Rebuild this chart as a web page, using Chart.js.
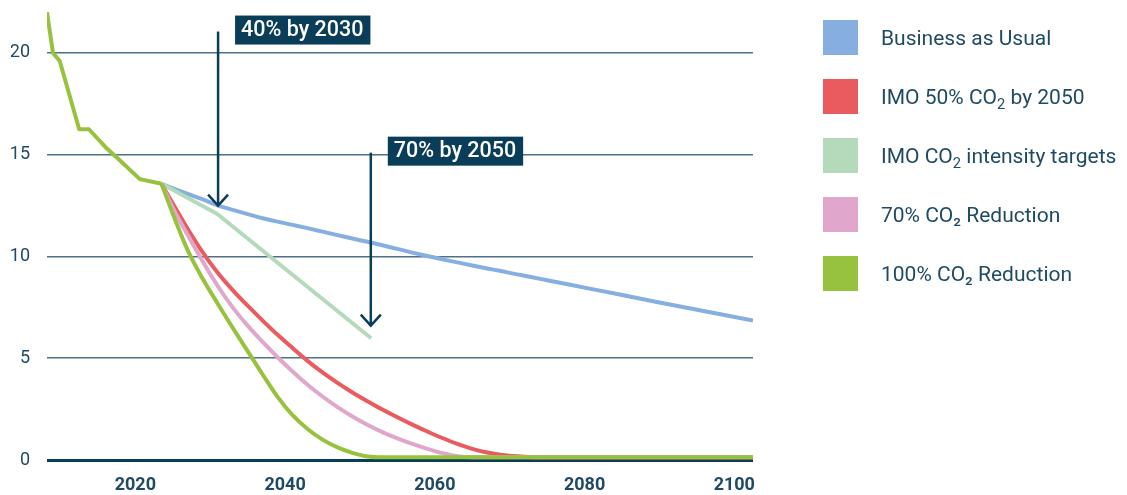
<!DOCTYPE html>
<html lang="en">
<head>
<meta charset="UTF-8">
<title>Shipping CO2 emission scenarios</title>
<script src="https://cdn.jsdelivr.net/npm/chart.js"></script>
<style>
  body { margin: 0; background: #fff; font-family: Roboto, sans-serif; }
  .wrap { position: relative; width: 1127px; height: 495px; }
  .legend { position: absolute; left: 823px; top: 20px; list-style: none; margin: 0; padding: 0; }
  .legend li { display: flex; align-items: center; height: 35px; margin-bottom: 24px; color: #1f4a63; font-size: 21px; white-space: nowrap; }
  .legend .box { width: 35px; height: 35px; margin-right: 23px; flex: none; }
  .legend sub { font-size: 0.7em; line-height: 0; vertical-align: -0.35em; }
</style>
</head>
<body>
<div class="wrap">
  <canvas id="co2Chart"></canvas>
  <ul class="legend" id="legend"></ul>
</div>

<script>
// historical emissions (shared start of every scenario)
const histYears  = [2008.2, 2009.0, 2009.9, 2012.5, 2013.8, 2016.2, 2017.7, 2020.6, 2023.5];
const histValues = [22.0, 20.0, 19.6, 16.25, 16.25, 15.3, 14.8, 13.8, 13.57];

// scenario years
const scenYears = [2023.5, 2025, 2027, 2029, 2031, 2033, 2035, 2037, 2039, 2041, 2043, 2045, 2047, 2049,
                   2051, 2053, 2055, 2057, 2059, 2061, 2063, 2065, 2067, 2069, 2071, 2073, 2075, 2080, 2090, 2102.5];

const businessAsUsual = [13.57, 13.35, 13.07, 12.8, 12.51, 12.29, 12.08, 11.88, 11.71, 11.55, 11.39, 11.22, 11.05, 10.88,
                         10.72, 10.55, 10.37, 10.19, 10.02, 9.86, 9.71, 9.56, 9.41, 9.27, 9.12, 8.98, 8.83, 8.47, 7.74, 6.85];
const imo50 = [13.57, 12.6, 11.35, 10.2, 9.2, 8.35, 7.58, 6.85, 6.15, 5.5, 4.87, 4.3, 3.79, 3.32,
               2.89, 2.48, 2.1, 1.74, 1.4, 1.08, 0.79, 0.55, 0.37, 0.25, 0.18, 0.14, 0.13, 0.13, 0.13, 0.13];
const reduction70 = [13.57, 12.4, 11.05, 9.75, 8.55, 7.5, 6.6, 5.8, 5.05, 4.35, 3.7, 3.12, 2.6, 2.14,
                     1.73, 1.37, 1.06, 0.79, 0.55, 0.34, 0.18, 0.13, 0.13, 0.13, 0.13, 0.13, 0.13, 0.13, 0.13, 0.13];
const reduction100 = [13.57, 12.1, 10.3, 8.9, 7.68, 6.5, 5.35, 4.2, 3.1, 2.2, 1.52, 1.0, 0.62, 0.35,
                      0.17, 0.13, 0.13, 0.13, 0.13, 0.13, 0.13, 0.13, 0.13, 0.13, 0.13, 0.13, 0.13, 0.13, 0.13, 0.13];

// intensity target line has its own kinks
const intensityYears  = [2023.5, 2030.9, 2051.5];
const intensityValues = [13.57, 12.1, 5.98];

const xTicks = [2020, 2040, 2060, 2080, 2100];
const yTicks = [0, 5, 10, 15, 20];

const seriesNames = ['Business as Usual', 'IMO 50% CO₂ by 2050', 'IMO CO₂ intensity targets', '70% CO₂ Reduction', '100% CO₂ Reduction'];
const seriesColors = ['#87aee0', '#e95b5f', '#b5dabb', '#e0a6cb', '#97c23d'];

// arrow annotations
const arrowYears  = [2031.05, 2051.45];
const arrowFrom   = [21.05, 15.1];
const arrowTo     = [12.5, 6.6];
const arrowLabels = ['40% by 2030', '70% by 2050'];

const navy = '#093d58';
const gridGrey = '#4f7183';
const textColor = '#1f4a63';

const toPoints = (xs, ys) => xs.map((x, i) => ({x: x, y: ys[i]}));

const arrowPlugin = {
    id: 'arrows',
    afterDatasetsDraw(chart) {
        const {ctx, scales: {x, y}} = chart;
        ctx.save();
        arrowYears.forEach((yr, i) => {
            const px = x.getPixelForValue(yr);
            const top = y.getPixelForValue(arrowFrom[i]);
            const tip = y.getPixelForValue(arrowTo[i]);
            ctx.strokeStyle = navy;
            ctx.lineWidth = 2.5;
            ctx.beginPath();
            ctx.moveTo(px, top);
            ctx.lineTo(px, tip);
            ctx.stroke();
            ctx.beginPath();
            ctx.moveTo(px - 10, tip - 11);
            ctx.lineTo(px, tip);
            ctx.lineTo(px + 10, tip - 11);
            ctx.stroke();

            ctx.font = '500 21.5px Roboto';
            const w = ctx.measureText(arrowLabels[i]).width;
            ctx.fillStyle = navy;
            ctx.fillRect(px + 17, top - 16, w + 13, 29);
            ctx.fillStyle = '#fff';
            ctx.textBaseline = 'middle';
            ctx.fillText(arrowLabels[i], px + 23, top - 1);
        });
        ctx.restore();
    }
};

const smooth = {cubicInterpolationMode: 'monotone'};

// first dataset is drawn on top
const datasets = [
    {label: 'history', data: toPoints(histYears, histValues), borderColor: seriesColors[4], tension: 0},
    {label: seriesNames[4], data: toPoints(scenYears, reduction100), borderColor: seriesColors[4], ...smooth},
    {label: seriesNames[3], data: toPoints(scenYears, reduction70), borderColor: seriesColors[3], ...smooth},
    {label: seriesNames[1], data: toPoints(scenYears, imo50), borderColor: seriesColors[1], ...smooth},
    {label: seriesNames[2], data: toPoints(intensityYears, intensityValues), borderColor: seriesColors[2], tension: 0},
    {label: seriesNames[0], data: toPoints(scenYears, businessAsUsual), borderColor: seriesColors[0], ...smooth}
];

new Chart(document.getElementById('co2Chart'), {
    type: 'line',
    data: {datasets: datasets},
    options: {
        responsive: true,
        maintainAspectRatio: false,
        animation: false,
        layout: {padding: {left: 11, right: 374, top: 0, bottom: 0}},
        plugins: {legend: {display: false}, tooltip: {enabled: false}},
        elements: {
            point: {radius: 0},
            line: {borderWidth: 4, fill: false, borderJoinStyle: 'round'}
        },
        scales: {
            x: {
                type: 'linear',
                min: 2008.2,
                max: 2102.5,
                afterBuildTicks: s => { s.ticks = xTicks.map(v => ({value: v})); },
                afterFit: s => { s.height = 35; },
                grid: {display: false, drawTicks: false},
                border: {display: false},
                ticks: {
                    color: textColor,
                    padding: 15,
                    maxRotation: 0,
                    font: {family: 'Roboto', size: 18, weight: 'bold'},
                    callback: v => String(v)
                }
            },
            y: {
                min: 0,
                max: 22.6,
                afterBuildTicks: s => { s.ticks = yTicks.map(v => ({value: v})); },
                afterFit: s => { s.width = 36; s.paddingTop = 0; s.paddingBottom = 0; },
                grid: {
                    drawTicks: false,
                    color: c => c.tick && c.tick.value === 0 ? navy : gridGrey,
                    lineWidth: c => c.tick && c.tick.value === 0 ? 3 : 1.5
                },
                border: {display: false},
                ticks: {
                    color: textColor,
                    padding: 17,
                    font: {family: 'Roboto', size: 18},
                    callback: v => String(v)
                }
            }
        }
    },
    plugins: [arrowPlugin]
});

// legend: first two names use a real subscript
const legend = document.getElementById('legend');
seriesNames.forEach((name, i) => {
    const li = document.createElement('li');
    const text = (i === 1 || i === 2) ? name.replace('₂', '<sub>2</sub>') : name;
    li.innerHTML = '<span class="box" style="background:' + seriesColors[i] + '"></span><span>' + text + '</span>';
    legend.appendChild(li);
});
</script>
</body>
</html>
